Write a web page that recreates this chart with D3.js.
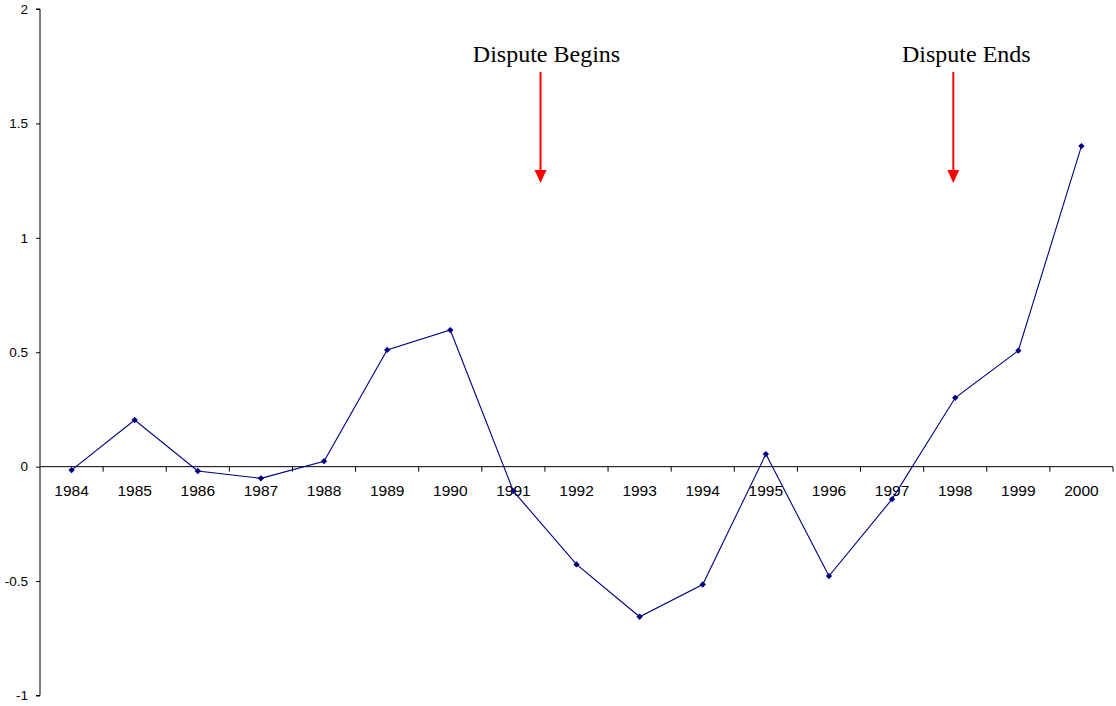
<!DOCTYPE html>
<html>
<head>
<meta charset="utf-8">
<script src="https://cdn.jsdelivr.net/npm/d3@7"></script>
<style>
html,body{margin:0;padding:0;background:#fff;}
svg{display:block;}
</style>
</head>
<body>
<svg id="chart" width="1116" height="706"></svg>
<script>
const years = ["1984","1985","1986","1987","1988","1989","1990","1991","1992","1993","1994","1995","1996","1997","1998","1999","2000"];
const values = [-0.015,0.204,-0.019,-0.051,0.024,0.51,0.597,-0.107,-0.427,-0.656,-0.515,0.055,-0.478,-0.142,0.301,0.507,1.401];
const yTicks = [-1,-0.5,0,0.5,1,1.5,2];
const yTickLabels = ["-1","-0.5","0","0.5","1","1.5","2"];
const annotations = [
  {label:"Dispute Begins", year:"1991", offset:0.93, textShift:6},
  {label:"Dispute Ends", year:"1998", offset:0.47, textShift:13}
];

const svg = d3.select("#chart");
const mLeft = 40, mRight = 1113, mTop = 9, mBottom = 695.5;

const x = d3.scaleBand().domain(years).range([mLeft, mRight]).padding(0);
const y = d3.scaleLinear().domain([-1, 2]).range([mBottom, mTop]);

// y axis
const yAxis = d3.axisLeft(y).tickValues(yTicks).tickSize(4).tickPadding(8)
  .tickFormat((d,i)=>yTickLabels[i]);
const gy = svg.append("g").attr("transform",`translate(${mLeft},0)`).call(yAxis);
gy.select(".domain").attr("stroke","#000").attr("d",`M-4,${mTop}H0V${mBottom}H-4`);
gy.selectAll(".tick line").attr("stroke","#000");
gy.selectAll(".tick text").attr("font-family","Liberation Sans, Arial, sans-serif")
  .attr("font-size","13.5px").attr("fill","#000");

// x axis at zero
const xAxis = d3.axisBottom(x).tickSize(0).tickPadding(18);
const gx = svg.append("g").attr("transform",`translate(0,${y(0)})`).call(xAxis);
gx.select(".domain").attr("stroke","#000").attr("d",`M${mLeft},0H${mRight}`);
gx.selectAll(".tick text").attr("font-family","Liberation Sans, Arial, sans-serif")
  .attr("font-size","15.5px").attr("fill","#000");
// boundary ticks between categories
const bounds = years.map(yr => x(yr)).concat([mRight]).slice(1);
gx.selectAll("line.bt").data(bounds).enter().append("line")
  .attr("class","bt").attr("x1",d=>d).attr("x2",d=>d).attr("y1",0).attr("y2",5)
  .attr("stroke","#000");

// line
const cx = d => x(d) + x.bandwidth()/2;
const line = d3.line().x((d,i)=>cx(years[i])).y(d=>y(d));
svg.append("path").datum(values).attr("d",line)
  .attr("fill","none").attr("stroke","#000080").attr("stroke-width",1.1);

// markers (square diamonds)
svg.selectAll("path.mk").data(values).enter().append("path")
  .attr("class","mk")
  .attr("d", d3.symbol().type(d3.symbolSquare).size(20))
  .attr("transform",(d,i)=>`translate(${cx(years[i])},${y(d)}) rotate(45)`)
  .attr("fill","#000080");

// annotations
annotations.forEach(a=>{
  const ax = x(a.year) + x.bandwidth()*a.offset;
  svg.append("text").attr("x",ax + a.textShift).attr("y",62)
    .attr("text-anchor","middle")
    .attr("font-family","Liberation Serif, Times New Roman, serif")
    .attr("font-size","24px").attr("fill","#000").text(a.label);
  svg.append("line").attr("x1",ax).attr("x2",ax).attr("y1",72).attr("y2",172)
    .attr("stroke","#ff0000").attr("stroke-width",2);
  svg.append("path").attr("d",`M${ax-6},${170}L${ax+6},${170}L${ax},${183}Z`)
    .attr("fill","#ff0000");
});
</script>
</body>
</html>
